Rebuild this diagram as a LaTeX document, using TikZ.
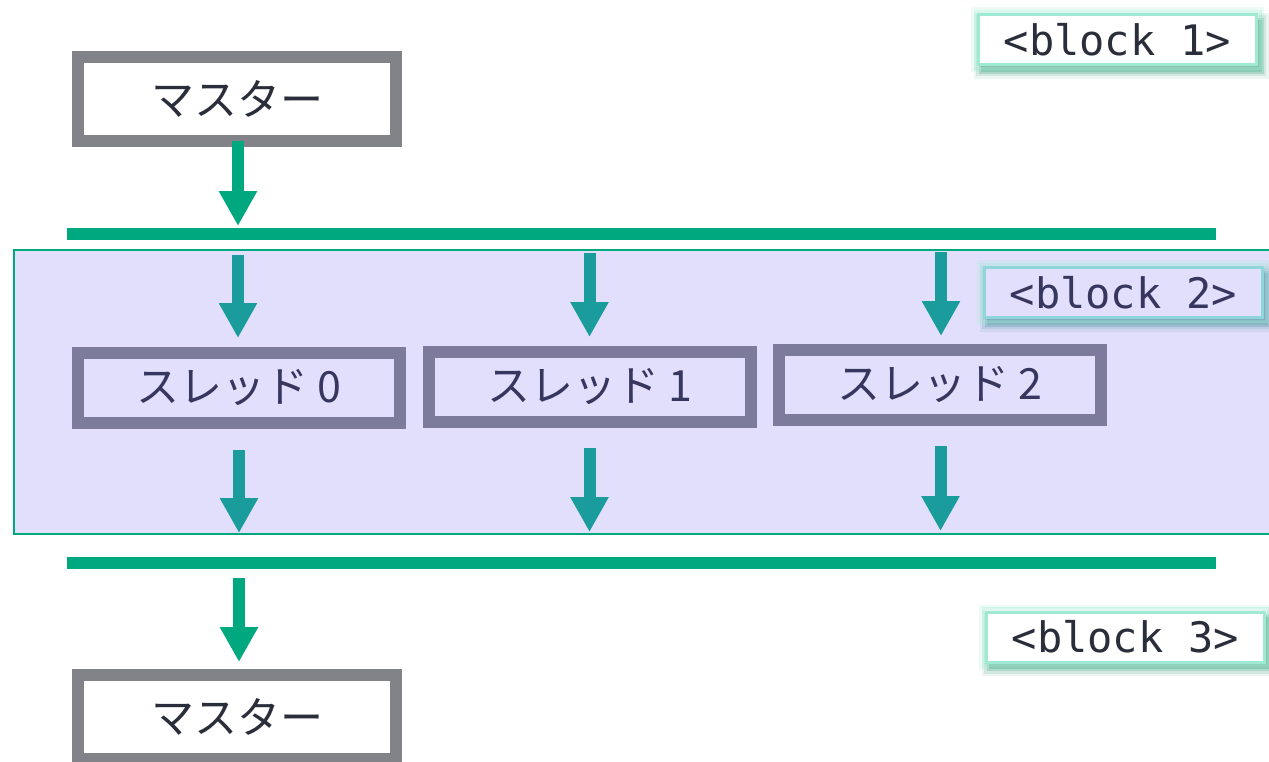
\documentclass[tikz,border=0pt]{standalone}
\usepackage{fontspec}
\newfontfamily\jpfont{Noto Sans CJK JP}
\newfontfamily\monofont{DejaVu Sans Mono}
\usetikzlibrary{arrows.meta,calc}
\definecolor{grn}{HTML}{00A87F}
\definecolor{tealc}{HTML}{1A9C9C}
\definecolor{lav}{HTML}{E1DFFB}
\definecolor{mgray}{HTML}{828388}
\definecolor{tborder}{HTML}{7D7B9B}
\definecolor{darktxt}{HTML}{2A2D3A}
\definecolor{thtxt}{HTML}{37365F}
\definecolor{glowA}{HTML}{9FEAD3}
\definecolor{glowB}{HTML}{8ED6DA}
\definecolor{shadA}{HTML}{3F9E7C}
\definecolor{shadB}{HTML}{4A8F9E}
\tikzset{
  masterbox/.style={draw=mgray, line width=12pt, fill=white, minimum width=318pt, minimum height=84pt, inner sep=0pt,
    font=\jpfont\fontsize{43}{50}\selectfont, text=darktxt},
  threadbox/.style={draw=tborder, line width=12pt, minimum width=322pt, minimum height=70pt, inner sep=0pt,
    font=\jpfont\fontsize{43}{50}\selectfont, text=thtxt},
  grnarrow/.style={draw=grn, line width=12pt, -{Triangle[width=36pt,length=35pt]}},
  tealarrow/.style={draw=tealc, line width=12pt, -{Triangle[width=36pt,length=35pt]}},
  bar/.style={draw=grn, line width=12pt},
  blocklbl/.style={line width=3pt, minimum width=278pt, minimum height=50pt, inner sep=0pt,
    font=\monofont\fontsize{42}{48}\selectfont},
}
\begin{document}
\begin{tikzpicture}[x=1pt,y=-1pt]
\useasboundingbox (0,0) rectangle (1269,761);
% block 2 background
\path[fill=lav, draw=grn, line width=1.5pt] (14,250) rectangle (1280,534);
% masters
\node[masterbox] (m1) at (237,99) {\raisebox{3pt}{マスター}};
\node[masterbox] (m2) at (237,717) {\raisebox{3pt}{マスター}};
% bars
\coordinate (b1l) at (67,234); \coordinate (b1r) at (1216,234);
\coordinate (b2l) at (67,563); \coordinate (b2r) at (1216,563);
\draw[bar] (b1l) -- (b1r);
\draw[bar] (b2l) -- (b2r);
% threads
\node[threadbox] (t0) at (239,388) {スレッド 0};
\node[threadbox] (t1) at (590,386.5) {スレッド 1};
\node[threadbox] (t2) at (940,385) {スレッド 2};
% arrows
\coordinate (a0) at (238,141); \coordinate (a0e) at (238,226);
\draw[grnarrow] (a0) -- (a0e);
\coordinate (u0) at (238,255); \coordinate (u0e) at (238,338);
\coordinate (u1) at (589.5,253); \coordinate (u1e) at (589.5,337);
\coordinate (u2) at (941,252); \coordinate (u2e) at (941,336);
\draw[tealarrow] (u0) -- (u0e);
\draw[tealarrow] (u1) -- (u1e);
\draw[tealarrow] (u2) -- (u2e);
\coordinate (d0) at (239,450); \coordinate (d0e) at (239,533);
\coordinate (d1) at (589.5,448); \coordinate (d1e) at (589.5,532);
\coordinate (d2) at (940.5,446); \coordinate (d2e) at (940.5,531);
\draw[tealarrow] (d0) -- (d0e);
\draw[tealarrow] (d1) -- (d1e);
\draw[tealarrow] (d2) -- (d2e);
\coordinate (g0) at (239,578); \coordinate (g0e) at (239,662);
\draw[grnarrow] (g0) -- (g0e);
% block labels with shadows
\foreach \cx/\cy/\sc in {1117.5/39.5/shadA, 1123.5/292.5/shadB, 1125.5/637/shadA}{
  \foreach \r/\o in {8/0.1, 5.5/0.15, 3/0.25, 1/0.35}{
    \fill[\sc, opacity=\o] (\cx-139+3-\r, \cy-25+6-\r) rectangle (\cx+139+4+\r, \cy+25+6+\r);
  }
  \foreach \r/\o in {6/0.2, 3.5/0.4}{
    \draw[glowA, opacity=\o, line width=3pt] (\cx-139-\r, \cy-25-\r) rectangle (\cx+139+\r, \cy+25+\r);
  }
}
\node[blocklbl, draw=glowA, fill=white, text=darktxt] (k1) at (1117.5,39.5) {<block 1>};
\node[blocklbl, draw=glowB, fill=lav, text=thtxt] (k2) at (1123.5,292.5) {<block 2>};
\node[blocklbl, draw=glowA, fill=white, text=darktxt] (k3) at (1125.5,637) {<block 3>};
\end{tikzpicture}
\end{document}
